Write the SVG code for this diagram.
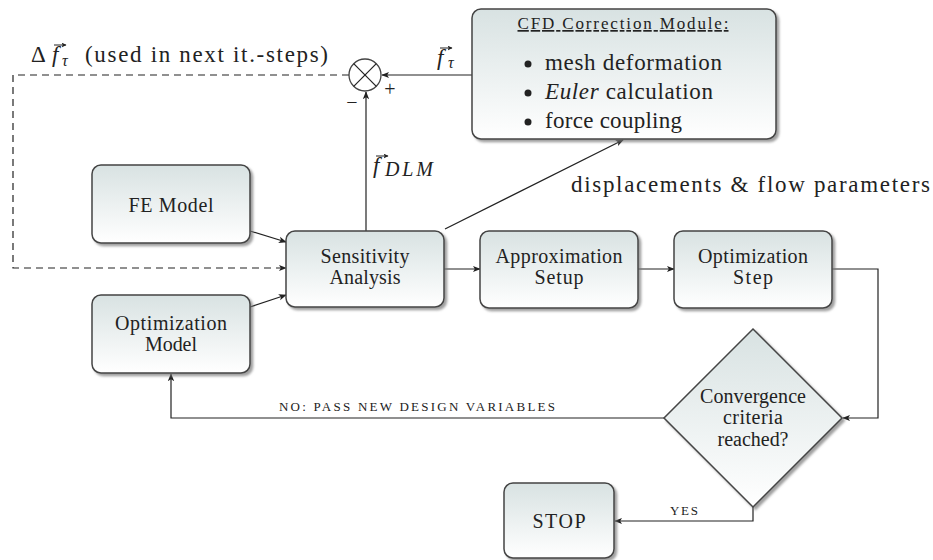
<svg xmlns="http://www.w3.org/2000/svg" width="933" height="560" viewBox="0 0 933 560">
<defs>
<linearGradient id="g" x1="0" y1="0" x2="0" y2="1">
<stop offset="0" stop-color="#d8e2e2"/>
<stop offset="1" stop-color="#ffffff"/>
</linearGradient>
<filter id="sh" x="-10%" y="-10%" width="130%" height="130%">
<feDropShadow dx="2.5" dy="2.5" stdDeviation="1.3" flood-color="#777" flood-opacity="0.7"/>
</filter>
<marker id="ar" viewBox="0 0 10 10" refX="9" refY="5" markerWidth="8" markerHeight="8" markerUnits="userSpaceOnUse" orient="auto">
<path d="M0,1 L10,5 L0,9 L2.5,5 Z" fill="#222"/>
</marker>
<marker id="vec" viewBox="0 0 10 10" refX="9" refY="5" markerWidth="5" markerHeight="5" markerUnits="userSpaceOnUse" orient="auto">
<path d="M0,0 L10,5 L0,10 L2.5,5 Z" fill="#222"/>
</marker>
</defs>
<style>
.box{fill:url(#g);stroke:#444;stroke-width:1.5;filter:url(#sh)}
.ser{font-family:'Liberation Serif',serif;fill:#222}
</style>

<g id="connectors" fill="none" stroke="#222" stroke-width="1.2" marker-end="url(#ar)">
<line x1="472" y1="75" x2="382" y2="75"/>
<line x1="366" y1="231" x2="366" y2="92"/>
<path d="M349,75 H13 V268 H286" stroke-dasharray="7,5"/>
<line x1="250" y1="231" x2="286" y2="242"/>
<line x1="250" y1="307" x2="286" y2="295"/>
<line x1="445" y1="229" x2="623" y2="140"/>
<line x1="444" y1="269" x2="480" y2="269"/>
<line x1="638" y1="269" x2="674" y2="269"/>
<path d="M832,269 H878 V418 H843"/>
<path d="M664,418 H171 V374"/>
<path d="M753,507 V521 H615"/>
</g>

<g id="sum" class="ser" font-family="Liberation Serif">
<circle cx="365" cy="75" r="16" fill="#fff" stroke="#444" stroke-width="1.3"/>
<line x1="353.7" y1="63.7" x2="376.3" y2="86.3" stroke="#222" stroke-width="1.2"/>
<line x1="376.3" y1="63.7" x2="353.7" y2="86.3" stroke="#222" stroke-width="1.2"/>
<text x="390" y="96" font-size="20" text-anchor="middle">+</text>
<text x="352" y="109" font-size="20" text-anchor="middle">−</text>
</g>

<g id="labels" class="ser" font-family="Liberation Serif" font-size="23">
<text x="31" y="62">Δ<tspan x="52" font-style="italic">f</tspan><tspan x="62" y="66" font-size="16" font-style="italic">τ</tspan></text>
<text x="85" y="62" textLength="243" lengthAdjust="spacing">(used in next it.-steps)</text>
<text x="437" y="65" font-style="italic">f<tspan x="448" y="68" font-size="16">τ</tspan></text>
<text x="373" y="173" font-style="italic">f</text>
<text x="385" y="176" font-style="italic" font-size="20" textLength="48" lengthAdjust="spacing">DLM</text>
<text x="571" y="192" textLength="359" lengthAdjust="spacing">displacements &amp; flow parameters</text>
<text x="279" y="411" font-size="13" textLength="276" lengthAdjust="spacing">NO: PASS NEW DESIGN VARIABLES</text>
<text x="670" y="515" font-size="13" textLength="28" lengthAdjust="spacing">YES</text>
<g fill="none" stroke="#222" stroke-width="1" marker-end="url(#vec)">
<line x1="54" y1="45" x2="66" y2="45"/>
<line x1="440" y1="48" x2="452" y2="48"/>
<line x1="376" y1="156" x2="388" y2="156"/>
</g>
</g>

<g id="nodes" class="ser" font-family="Liberation Serif" font-size="20" text-anchor="middle">
<g id="cfd">
<rect class="box" x="472" y="9" width="304" height="130" rx="9"/>
<text x="623" y="29" font-size="17" text-decoration="underline" textLength="211" lengthAdjust="spacing">CFD Correction Module:</text>
<circle cx="528" cy="64" r="3.5"/>
<circle cx="528" cy="93" r="3.5"/>
<circle cx="528" cy="122" r="3.5"/>
<g font-size="23" text-anchor="start">
<text x="545" y="70" textLength="177" lengthAdjust="spacing">mesh deformation</text>
<text x="545" y="99" textLength="168" lengthAdjust="spacing"><tspan font-style="italic">Euler</tspan> calculation</text>
<text x="545" y="128" textLength="137" lengthAdjust="spacing">force coupling</text>
</g>
</g>

<g id="fe-model">
<rect class="box" x="92" y="165" width="158" height="78" rx="9"/>
<text x="171" y="212" textLength="85" lengthAdjust="spacing">FE Model</text>
</g>

<g id="sensitivity">
<rect class="box" x="286" y="231" width="158" height="76" rx="9"/>
<text x="365" y="263" textLength="89" lengthAdjust="spacing">Sensitivity</text>
<text x="365" y="284" textLength="71" lengthAdjust="spacing">Analysis</text>
</g>

<g id="opt-model">
<rect class="box" x="92" y="295" width="158" height="78" rx="9"/>
<text x="171" y="330" textLength="112" lengthAdjust="spacing">Optimization</text>
<text x="171" y="351" textLength="52" lengthAdjust="spacing">Model</text>
</g>

<g id="approx">
<rect class="box" x="480" y="231" width="158" height="77" rx="9"/>
<text x="559" y="263" textLength="127" lengthAdjust="spacing">Approximation</text>
<text x="559" y="284" textLength="49" lengthAdjust="spacing">Setup</text>
</g>

<g id="opt-step">
<rect class="box" x="674" y="231" width="158" height="77" rx="9"/>
<text x="753" y="263" textLength="110" lengthAdjust="spacing">Optimization</text>
<text x="753" y="284" textLength="40" lengthAdjust="spacing">Step</text>
</g>

<g id="convergence">
<polygon class="box" points="753,329 842,418 753,507 664,418"/>
<text x="753" y="403" textLength="106" lengthAdjust="spacing">Convergence</text>
<text x="753" y="424" textLength="60" lengthAdjust="spacing">criteria</text>
<text x="753" y="446" textLength="71" lengthAdjust="spacing">reached?</text>
</g>

<g id="stop">
<rect class="box" x="504" y="483" width="110" height="75" rx="9"/>
<text x="559" y="528" textLength="53" lengthAdjust="spacing">STOP</text>
</g>
</g>
</svg>
